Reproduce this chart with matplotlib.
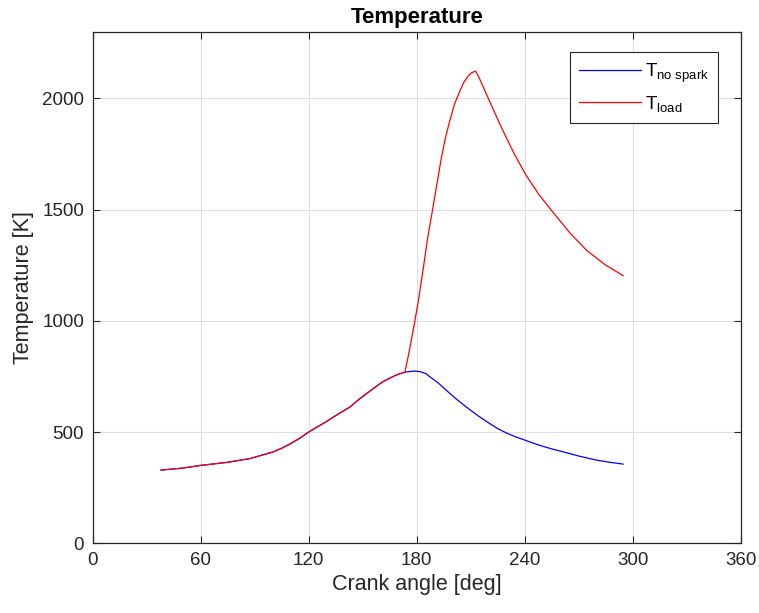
import numpy as np
import matplotlib
matplotlib.use('Agg')
import matplotlib.pyplot as plt

# Data (crank angle [deg], temperature [K])
# shared compression part, up to the spark point
ca_comp = [38, 50, 60, 75, 87.5, 100, 105, 110, 115, 120, 125, 130, 135, 142.8,
           146, 150, 155, 159.5, 162, 165, 168, 170.6, 173.4]
T_comp = [329, 338, 350, 364, 381, 410, 427, 448, 472, 500, 524, 548, 574, 612,
          634, 660, 690, 717, 730, 742, 754, 762, 769]

# no spark branch
ca_nospark = [173.4, 176, 179, 182, 185, 187, 192, 196.5, 202, 207.6, 214, 220.5, 225,
              230, 235, 240.3, 245, 250, 255, 261.2, 270, 279.7, 288, 294.5]
T_nospark = [769, 772, 774, 771, 763, 750, 720, 687, 648, 612, 573, 538, 515,
             495, 478, 463, 449, 436, 424, 411, 392, 374, 363, 356]

# load (combustion) branch
ca_load = [173.4, 175.5, 178, 181, 183.5, 186, 189, 191.5, 193.7, 196, 198.3, 201,
           203.9, 206, 208.5, 210.5, 212.7, 215, 218.7, 223, 227.9, 234, 240.3,
           248, 255.6, 265, 274.1, 284, 294.5]
T_load = [769, 850, 957, 1095, 1230, 1370, 1510, 1630, 1734, 1825, 1898, 1975,
          2032, 2070, 2100, 2115, 2122, 2085, 2018, 1940, 1853, 1752, 1659,
          1565, 1488, 1395, 1318, 1255, 1203]

x_ticks = [0, 60, 120, 180, 240, 300, 360]
y_ticks = [0, 500, 1000, 1500, 2000]

plt.rcParams['font.family'] = ['Liberation Sans', 'DejaVu Sans']
plt.rcParams['mathtext.fontset'] = 'custom'
plt.rcParams['mathtext.rm'] = 'Liberation Sans'
plt.rcParams['mathtext.it'] = 'Liberation Sans'

txt = '#262626'
fig = plt.figure(figsize=(7.59, 6.13), dpi=100)
ax = fig.add_axes([0.1219, 0.1137, 0.8544, 0.8349])

ax.plot(ca_comp + ca_nospark[1:], T_comp + T_nospark[1:], color='b', lw=0.9,
        label=r'T$_{\mathrm{no\ spark}}$')
ax.plot(ca_comp + ca_load[1:], T_comp + T_load[1:], color='r', lw=0.9,
        label=r'T$_{\mathrm{load}}$')

ax.set_xlim(0, 360)
ax.set_ylim(0, 2300)
ax.set_xticks(x_ticks)
ax.set_yticks(y_ticks)
ax.grid(True, color='#dfdfdf', lw=0.8)
ax.set_axisbelow(True)
ax.tick_params(direction='in', top=True, right=True, labelsize=13.5,
               colors=txt, length=5, width=0.8, pad=6)
for s in ax.spines.values():
    s.set_color(txt)
    s.set_linewidth(0.9)

ax.set_xlabel('Crank angle [deg]', fontsize=15.5, color=txt, labelpad=4)
ax.set_ylabel('Temperature [K]', fontsize=15.5, color=txt, labelpad=6)
ax.set_title('Temperature', fontsize=16, fontweight='bold', pad=6)

leg = ax.legend(loc='upper left', bbox_to_anchor=(570 / 759, 1 - 52 / 613),
                bbox_transform=fig.transFigure, borderaxespad=0, fontsize=13.5,
                frameon=True, fancybox=False, edgecolor=txt, framealpha=1,
                handlelength=3.3, borderpad=0.5, labelspacing=0.5,
                handletextpad=0.2)
leg.get_frame().set_linewidth(0.8)

fig.savefig('out.png', dpi=100)
